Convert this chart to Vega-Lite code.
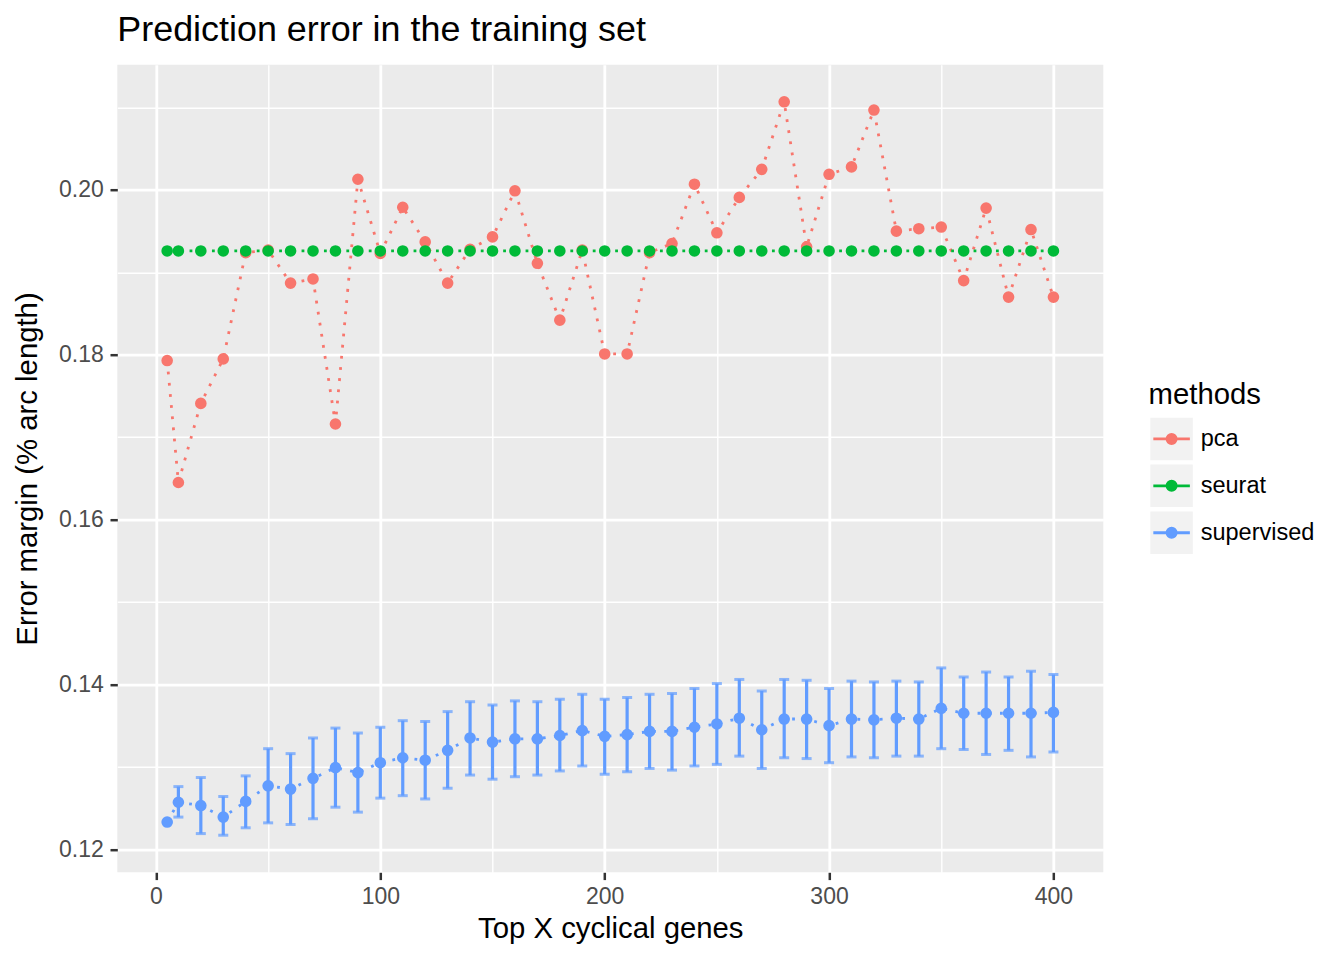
{
  "$schema": "https://vega.github.io/schema/vega-lite/v6.json",
  "autosize": {"type": "none"},
  "width": 986,
  "height": 807.6,
  "padding": {"left": 117.3, "top": 64.7, "right": 240.7, "bottom": 87.7},
  "title": {
    "text": "Prediction error in the training set",
    "anchor": "start",
    "frame": "group",
    "baseline": "alphabetic",
    "offset": 23,
    "dy": 35.2,
    "fontSize": 35.9,
    "fontWeight": "normal",
    "color": "#000000"
  },
  "data": {
    "values": [
      {"genes": 5, "methods": "pca", "error": 0.1793},
      {"genes": 10, "methods": "pca", "error": 0.1645},
      {"genes": 20, "methods": "pca", "error": 0.1741},
      {"genes": 30, "methods": "pca", "error": 0.1795},
      {"genes": 40, "methods": "pca", "error": 0.1924},
      {"genes": 50, "methods": "pca", "error": 0.1927},
      {"genes": 60, "methods": "pca", "error": 0.1887},
      {"genes": 70, "methods": "pca", "error": 0.1892},
      {"genes": 80, "methods": "pca", "error": 0.1716},
      {"genes": 90, "methods": "pca", "error": 0.2013},
      {"genes": 100, "methods": "pca", "error": 0.1923},
      {"genes": 110, "methods": "pca", "error": 0.1979},
      {"genes": 120, "methods": "pca", "error": 0.1937},
      {"genes": 130, "methods": "pca", "error": 0.1887},
      {"genes": 140, "methods": "pca", "error": 0.1928},
      {"genes": 150, "methods": "pca", "error": 0.1943},
      {"genes": 160, "methods": "pca", "error": 0.1999},
      {"genes": 170, "methods": "pca", "error": 0.1911},
      {"genes": 180, "methods": "pca", "error": 0.1842},
      {"genes": 190, "methods": "pca", "error": 0.1927},
      {"genes": 200, "methods": "pca", "error": 0.1801},
      {"genes": 210, "methods": "pca", "error": 0.1801},
      {"genes": 220, "methods": "pca", "error": 0.1924},
      {"genes": 230, "methods": "pca", "error": 0.1935},
      {"genes": 240, "methods": "pca", "error": 0.2007},
      {"genes": 250, "methods": "pca", "error": 0.1948},
      {"genes": 260, "methods": "pca", "error": 0.1991},
      {"genes": 270, "methods": "pca", "error": 0.2025},
      {"genes": 280, "methods": "pca", "error": 0.2107},
      {"genes": 290, "methods": "pca", "error": 0.1931},
      {"genes": 300, "methods": "pca", "error": 0.2019},
      {"genes": 310, "methods": "pca", "error": 0.2028},
      {"genes": 320, "methods": "pca", "error": 0.2097},
      {"genes": 330, "methods": "pca", "error": 0.1950},
      {"genes": 340, "methods": "pca", "error": 0.1953},
      {"genes": 350, "methods": "pca", "error": 0.1955},
      {"genes": 360, "methods": "pca", "error": 0.1890},
      {"genes": 370, "methods": "pca", "error": 0.1978},
      {"genes": 380, "methods": "pca", "error": 0.1870},
      {"genes": 390, "methods": "pca", "error": 0.1952},
      {"genes": 400, "methods": "pca", "error": 0.1870},
      {"genes": 5, "methods": "seurat", "error": 0.1926},
      {"genes": 10, "methods": "seurat", "error": 0.1926},
      {"genes": 20, "methods": "seurat", "error": 0.1926},
      {"genes": 30, "methods": "seurat", "error": 0.1926},
      {"genes": 40, "methods": "seurat", "error": 0.1926},
      {"genes": 50, "methods": "seurat", "error": 0.1926},
      {"genes": 60, "methods": "seurat", "error": 0.1926},
      {"genes": 70, "methods": "seurat", "error": 0.1926},
      {"genes": 80, "methods": "seurat", "error": 0.1926},
      {"genes": 90, "methods": "seurat", "error": 0.1926},
      {"genes": 100, "methods": "seurat", "error": 0.1926},
      {"genes": 110, "methods": "seurat", "error": 0.1926},
      {"genes": 120, "methods": "seurat", "error": 0.1926},
      {"genes": 130, "methods": "seurat", "error": 0.1926},
      {"genes": 140, "methods": "seurat", "error": 0.1926},
      {"genes": 150, "methods": "seurat", "error": 0.1926},
      {"genes": 160, "methods": "seurat", "error": 0.1926},
      {"genes": 170, "methods": "seurat", "error": 0.1926},
      {"genes": 180, "methods": "seurat", "error": 0.1926},
      {"genes": 190, "methods": "seurat", "error": 0.1926},
      {"genes": 200, "methods": "seurat", "error": 0.1926},
      {"genes": 210, "methods": "seurat", "error": 0.1926},
      {"genes": 220, "methods": "seurat", "error": 0.1926},
      {"genes": 230, "methods": "seurat", "error": 0.1926},
      {"genes": 240, "methods": "seurat", "error": 0.1926},
      {"genes": 250, "methods": "seurat", "error": 0.1926},
      {"genes": 260, "methods": "seurat", "error": 0.1926},
      {"genes": 270, "methods": "seurat", "error": 0.1926},
      {"genes": 280, "methods": "seurat", "error": 0.1926},
      {"genes": 290, "methods": "seurat", "error": 0.1926},
      {"genes": 300, "methods": "seurat", "error": 0.1926},
      {"genes": 310, "methods": "seurat", "error": 0.1926},
      {"genes": 320, "methods": "seurat", "error": 0.1926},
      {"genes": 330, "methods": "seurat", "error": 0.1926},
      {"genes": 340, "methods": "seurat", "error": 0.1926},
      {"genes": 350, "methods": "seurat", "error": 0.1926},
      {"genes": 360, "methods": "seurat", "error": 0.1926},
      {"genes": 370, "methods": "seurat", "error": 0.1926},
      {"genes": 380, "methods": "seurat", "error": 0.1926},
      {"genes": 390, "methods": "seurat", "error": 0.1926},
      {"genes": 400, "methods": "seurat", "error": 0.1926},
      {"genes": 5, "methods": "supervised", "error": 0.1233, "lower": 0.1233, "upper": 0.1233},
      {"genes": 10, "methods": "supervised", "error": 0.1257, "lower": 0.1239, "upper": 0.1276},
      {"genes": 20, "methods": "supervised", "error": 0.1253, "lower": 0.1219, "upper": 0.1287},
      {"genes": 30, "methods": "supervised", "error": 0.1239, "lower": 0.1217, "upper": 0.1264},
      {"genes": 40, "methods": "supervised", "error": 0.1258, "lower": 0.1226, "upper": 0.1289},
      {"genes": 50, "methods": "supervised", "error": 0.1277, "lower": 0.1232, "upper": 0.1322},
      {"genes": 60, "methods": "supervised", "error": 0.1273, "lower": 0.1230, "upper": 0.1316},
      {"genes": 70, "methods": "supervised", "error": 0.1286, "lower": 0.1237, "upper": 0.1335},
      {"genes": 80, "methods": "supervised", "error": 0.1299, "lower": 0.1251, "upper": 0.1347},
      {"genes": 90, "methods": "supervised", "error": 0.1293, "lower": 0.1245, "upper": 0.1341},
      {"genes": 100, "methods": "supervised", "error": 0.1305, "lower": 0.1262, "upper": 0.1348},
      {"genes": 110, "methods": "supervised", "error": 0.1311, "lower": 0.1265, "upper": 0.1356},
      {"genes": 120, "methods": "supervised", "error": 0.1308, "lower": 0.1261, "upper": 0.1355},
      {"genes": 130, "methods": "supervised", "error": 0.1320, "lower": 0.1274, "upper": 0.1367},
      {"genes": 140, "methods": "supervised", "error": 0.1335, "lower": 0.1290, "upper": 0.1379},
      {"genes": 150, "methods": "supervised", "error": 0.1330, "lower": 0.1285, "upper": 0.1375},
      {"genes": 160, "methods": "supervised", "error": 0.1334, "lower": 0.1288, "upper": 0.1380},
      {"genes": 170, "methods": "supervised", "error": 0.1334, "lower": 0.1290, "upper": 0.1379},
      {"genes": 180, "methods": "supervised", "error": 0.1338, "lower": 0.1295, "upper": 0.1382},
      {"genes": 190, "methods": "supervised", "error": 0.1344, "lower": 0.1301, "upper": 0.1388},
      {"genes": 200, "methods": "supervised", "error": 0.1337, "lower": 0.1291, "upper": 0.1382},
      {"genes": 210, "methods": "supervised", "error": 0.1339, "lower": 0.1294, "upper": 0.1384},
      {"genes": 220, "methods": "supervised", "error": 0.1343, "lower": 0.1298, "upper": 0.1388},
      {"genes": 230, "methods": "supervised", "error": 0.1343, "lower": 0.1296, "upper": 0.1389},
      {"genes": 240, "methods": "supervised", "error": 0.1348, "lower": 0.1301, "upper": 0.1395},
      {"genes": 250, "methods": "supervised", "error": 0.1352, "lower": 0.1303, "upper": 0.1401},
      {"genes": 260, "methods": "supervised", "error": 0.1359, "lower": 0.1313, "upper": 0.1406},
      {"genes": 270, "methods": "supervised", "error": 0.1345, "lower": 0.1298, "upper": 0.1392},
      {"genes": 280, "methods": "supervised", "error": 0.1358, "lower": 0.1311, "upper": 0.1406},
      {"genes": 290, "methods": "supervised", "error": 0.1358, "lower": 0.1310, "upper": 0.1405},
      {"genes": 300, "methods": "supervised", "error": 0.1350, "lower": 0.1305, "upper": 0.1395},
      {"genes": 310, "methods": "supervised", "error": 0.1358, "lower": 0.1312, "upper": 0.1404},
      {"genes": 320, "methods": "supervised", "error": 0.1357, "lower": 0.1311, "upper": 0.1403},
      {"genes": 330, "methods": "supervised", "error": 0.1359, "lower": 0.1313, "upper": 0.1404},
      {"genes": 340, "methods": "supervised", "error": 0.1358, "lower": 0.1313, "upper": 0.1403},
      {"genes": 350, "methods": "supervised", "error": 0.1371, "lower": 0.1322, "upper": 0.1420},
      {"genes": 360, "methods": "supervised", "error": 0.1365, "lower": 0.1321, "upper": 0.1409},
      {"genes": 370, "methods": "supervised", "error": 0.1365, "lower": 0.1315, "upper": 0.1415},
      {"genes": 380, "methods": "supervised", "error": 0.1365, "lower": 0.1320, "upper": 0.1409},
      {"genes": 390, "methods": "supervised", "error": 0.1365, "lower": 0.1312, "upper": 0.1416},
      {"genes": 400, "methods": "supervised", "error": 0.1366, "lower": 0.1318, "upper": 0.1412}
    ]
  },
  "encoding": {
    "color": {
      "field": "methods",
      "type": "nominal",
      "scale": {
        "domain": ["pca", "seurat", "supervised"],
        "range": ["#F8766D", "#00BA38", "#619CFF"]
      },
      "legend": {
        "orient": "none",
        "legendX": 1031.3,
        "legendY": 316.5,
        "zindex": 1,
        "title": "methods",
        "symbolType": "M-1,-1L-1,-1M1,1L1,1M-0.86,0L0.86,0M-0.216,0A0.216,0.216,0,1,0,0.216,0A0.216,0.216,0,1,0,-0.216,0Z",
        "symbolSize": 1806,
        "symbolStrokeWidth": 2.8,
        "symbolOpacity": 1,
        "rowPadding": 0.9,
        "clipHeight": 45.3,
        "labelOpacity": 0,
        "titleOpacity": 0
      }
    }
  },
  "layer": [
    {
      "mark": {"type": "point", "filled": true, "shape": "square", "color": "#F2F2F2", "opacity": 0},
      "encoding": {
        "color": {"value": "#F2F2F2"},
        "x": {
          "field": "genes",
          "type": "quantitative",
          "scale": {"domain": [-17.225, 422.225], "nice": false, "zero": false},
          "axis": {"orient": "bottom", "values": [50, 150, 250, 350], "grid": true, "gridWidth": 1.4, "labels": false, "ticks": false, "domain": false, "title": null}
        },
        "y": {
          "field": "error",
          "type": "quantitative",
          "scale": {"domain": [0.1172, 0.2152], "nice": false, "zero": false},
          "axis": {"orient": "left", "values": [0.13, 0.15, 0.17, 0.19, 0.21], "grid": true, "gridWidth": 1.4, "labels": false, "ticks": false, "domain": false, "title": null}
        },
        "shape": {
          "field": "methods",
          "type": "nominal",
          "scale": {"range": ["square"]},
          "legend": {
            "orient": "none",
            "legendX": 1031.3,
            "legendY": 316.5,
            "zindex": 0,
            "title": "methods",
            "symbolSize": 1806,
            "symbolStrokeWidth": 2.8,
            "symbolStrokeColor": "transparent",
            "symbolFillColor": "#F2F2F2",
            "symbolOpacity": 1,
            "rowPadding": 0.9,
            "clipHeight": 45.3
          }
        }
      }
    },
    {
      "mark": {"type": "line", "strokeDash": [2.8, 8.4], "strokeWidth": 2.8, "strokeCap": "butt"},
      "encoding": {
        "x": {"field": "genes", "type": "quantitative", "axis": null},
        "y": {"field": "error", "type": "quantitative", "axis": null}
      }
    },
    {
      "transform": [{"filter": {"field": "methods", "equal": "supervised"}}],
      "mark": {
        "type": "errorbar",
        "ticks": {"thickness": 3},
        "rule": {"strokeWidth": 3.2},
        "size": 10,
        "thickness": 3
      },
      "encoding": {
        "x": {"field": "genes", "type": "quantitative", "axis": null},
        "y": {"field": "lower", "type": "quantitative", "axis": null},
        "y2": {"field": "upper"}
      }
    },
    {
      "mark": {"type": "point", "filled": true, "size": 135, "opacity": 1},
      "encoding": {
        "x": {
          "field": "genes",
          "type": "quantitative",
          "axis": {
            "orient": "bottom",
            "values": [0, 100, 200, 300, 400],
            "format": "d",
            "grid": true,
            "title": "Top X cyclical genes",
            "labelPadding": 5.5,
            "titleBaseline": "alphabetic",
            "titleX": 493,
            "titleY": 65
          }
        },
        "y": {
          "field": "error",
          "type": "quantitative",
          "axis": {
            "orient": "left",
            "values": [0.12, 0.14, 0.16, 0.18, 0.2],
            "format": ".2f",
            "grid": true,
            "title": "Error margin (% arc length)",
            "labelPadding": 6.7,
            "titleAngle": 270,
            "titleAlign": "center",
            "titleBaseline": "alphabetic",
            "titleX": -80.6,
            "titleY": 403.8
          }
        }
      }
    }
  ],
  "resolve": {"axis": {"x": "independent", "y": "independent"}},
  "config": {
    "font": "Liberation Sans",
    "view": {"fill": "#EBEBEB", "stroke": null},
    "axis": {
      "domain": false,
      "labelFont": "Liberation Sans",
      "labelFontSize": 23,
      "labelColor": "#4D4D4D",
      "tickColor": "#333333",
      "tickSize": 7.3,
      "tickWidth": 2.5,
      "gridColor": "#FFFFFF",
      "gridWidth": 2.8,
      "titleFont": "Liberation Sans",
      "titleFontSize": 29.3,
      "titleFontWeight": "normal",
      "titleColor": "#000000"
    },
    "legend": {
      "padding": 0,
      "titleFont": "Liberation Sans",
      "titleFontSize": 29.3,
      "titleFontWeight": "normal",
      "titleColor": "#000000",
      "titlePadding": 5.8,
      "labelFont": "Liberation Sans",
      "labelFontSize": 23.5,
      "labelColor": "#000000",
      "labelOffset": 6.1,
      "rowPadding": 0.9,
      "clipHeight": 45.3,
      "symbolSize": 1806,
      "symbolStrokeWidth": 2.8
    },
    "title": {"font": "Liberation Sans"}
  }
}
